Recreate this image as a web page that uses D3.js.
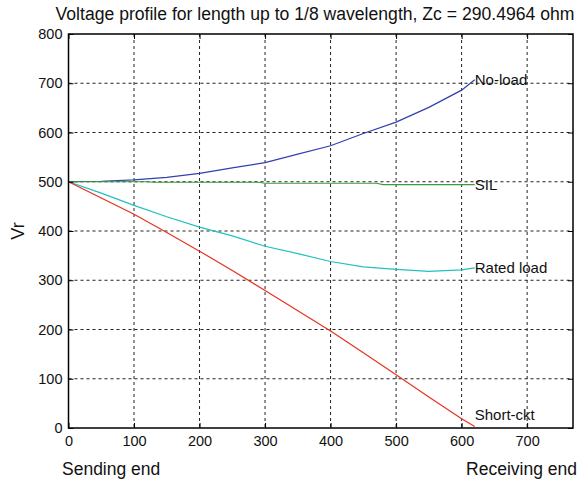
<!DOCTYPE html>
<html>
<head>
<meta charset="utf-8">
<script src="https://cdn.jsdelivr.net/npm/d3@7"></script>
<style>
  body { margin: 0; background: #fff; }
  svg text { font-family: "Liberation Sans", Arial, sans-serif; fill: #111; }
</style>
</head>
<body>
<script>
// distance along the line (x) and receiving-side voltage for each case
let xs = [0, 50, 100, 150, 200, 250, 300, 350, 400, 450, 500, 550, 600, 620];
let noLoad    = [500, 501, 504, 509, 517, 528, 539, 556, 573, 598, 621, 651, 686, 707];
let ratedLoad = [500, 477, 452, 429, 408, 390, 369, 354, 338, 327, 322, 318, 321, 325];
let shortCkt  = [500, 467, 434, 397, 359, 320, 279, 238, 197, 153, 108, 63, 19, 3];
let silX = [0, 120, 130, 290, 300, 470, 480, 620];
let silV = [500, 500, 499, 499, 497, 497, 494, 494];

let xTicks = [0, 100, 200, 300, 400, 500, 600, 700];
let yTicks = [0, 100, 200, 300, 400, 500, 600, 700, 800];

let series = [
  { name: 'No-load',    x: xs,   v: noLoad,    color: '#3040b0' },
  { name: 'SIL',        x: silX, v: silV,      color: '#3c9a3c' },
  { name: 'Rated load', x: xs,   v: ratedLoad, color: '#22c0c0' },
  { name: 'Short-ckt',  x: xs,   v: shortCkt,  color: '#e8321e' }
];
let labelV = { 'No-load': 707, 'SIL': 494, 'Rated load': 325, 'Short-ckt': 27 };

let W = 584, H = 482;
let pLeft = 68.5, pRight = 573, pTop = 34, pBottom = 428;

let x = d3.scaleLinear().domain([0, 770]).range([pLeft, pRight]);
let y = d3.scaleLinear().domain([0, 800]).range([pBottom, pTop]);

let svg = d3.select('body').append('svg')
  .attr('width', W).attr('height', H);

// dotted grid
svg.append('g').selectAll('line').data(xTicks.slice(1)).enter().append('line')
  .attr('x1', d => x(d)).attr('x2', d => x(d))
  .attr('y1', pTop).attr('y2', pBottom)
  .attr('stroke', '#222').attr('stroke-dasharray', '3,3').attr('stroke-width', 1);
svg.append('g').selectAll('line').data(yTicks.slice(1, -1)).enter().append('line')
  .attr('x1', pLeft).attr('x2', pRight)
  .attr('y1', d => y(d)).attr('y2', d => y(d))
  .attr('stroke', '#222').attr('stroke-dasharray', '3,3').attr('stroke-width', 1);

// curves
let line = d3.line().x(d => x(d[0])).y(d => y(d[1]));
series.forEach(s => {
  svg.append('path')
    .datum(s.x.map((xv, i) => [xv, s.v[i]]))
    .attr('d', line)
    .attr('fill', 'none')
    .attr('stroke', s.color)
    .attr('stroke-width', 1.2);

  svg.append('text')
    .attr('x', x(620))
    .attr('y', y(labelV[s.name]))
    .attr('dy', '0.35em')
    .attr('font-size', 15)
    .text(s.name);
});

// axes, MATLAB style with inward ticks and box
let xAxis = d3.axisBottom(x).tickValues(xTicks).tickSize(-5).tickPadding(8);
let yAxis = d3.axisLeft(y).tickValues(yTicks).tickSize(-5).tickPadding(6);

svg.append('g').attr('transform', 'translate(0,' + pBottom + ')').call(xAxis)
  .call(g => g.select('.domain').remove());
svg.append('g').attr('transform', 'translate(' + pLeft + ',0)').call(yAxis)
  .call(g => g.select('.domain').remove());
svg.append('g').attr('transform', 'translate(0,' + pTop + ')')
  .call(d3.axisTop(x).tickValues(xTicks).tickSize(-5).tickFormat(''))
  .call(g => g.select('.domain').remove());
svg.append('g').attr('transform', 'translate(' + pRight + ',0)')
  .call(d3.axisRight(y).tickValues(yTicks).tickSize(-5).tickFormat(''))
  .call(g => g.select('.domain').remove());

svg.selectAll('.tick line').attr('stroke', '#000');
svg.selectAll('.tick text').attr('font-size', 14.5).attr('font-family', '"Liberation Sans", Arial, sans-serif').attr('fill', '#111');

svg.append('rect')
  .attr('x', pLeft).attr('y', pTop)
  .attr('width', pRight - pLeft).attr('height', pBottom - pTop)
  .attr('fill', 'none').attr('stroke', '#000').attr('stroke-width', 1.5);

// titles
svg.append('text')
  .attr('x', 315).attr('y', 20)
  .attr('text-anchor', 'middle').attr('font-size', 17.6)
  .text('Voltage profile for length up to 1/8 wavelength, Zc = 290.4964 ohm');

svg.append('text')
  .attr('transform', 'translate(24,' + ((pTop + pBottom) / 2) + ')rotate(-90)')
  .attr('text-anchor', 'middle').attr('font-size', 18)
  .text('Vr');

svg.append('text')
  .attr('x', 62).attr('y', 475)
  .attr('font-size', 17.5)
  .text('Sending end');

svg.append('text')
  .attr('x', 577).attr('y', 475)
  .attr('text-anchor', 'end').attr('font-size', 17.5)
  .text('Receiving end');
</script>
</body>
</html>
